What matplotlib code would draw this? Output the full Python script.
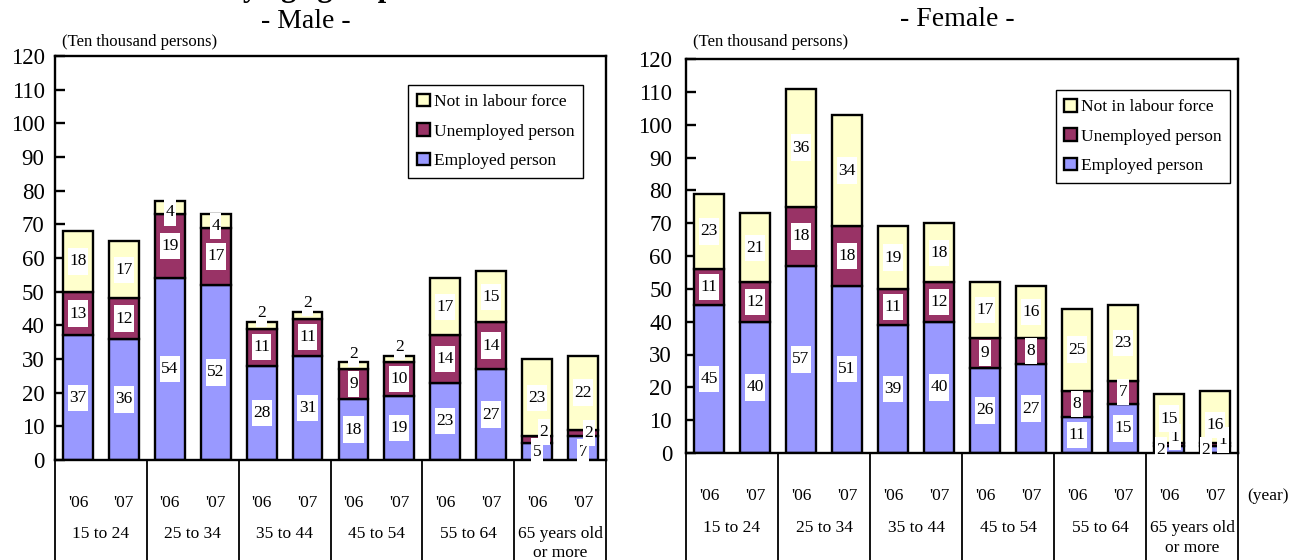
import matplotlib
matplotlib.use("Agg")
import matplotlib.pyplot as plt
import numpy as np
from matplotlib.path import Path
from matplotlib.patches import Patch

plt.rcParams['font.family'] = ['Liberation Serif', 'DejaVu Serif']

# ---- data (ten thousand persons) ----
age_groups = ["15 to 24", "25 to 34", "35 to 44", "45 to 54", "55 to 64",
              "65 years old\nor more"]
years = ["'06", "'07"]
series_names = ["Employed person", "Unemployed person", "Not in labour force"]
colors = ["#9999FF", "#993366", "#FFFFCC"]

male_employed = [37, 36, 54, 52, 28, 31, 18, 19, 23, 27, 5, 7]
male_unemployed = [13, 12, 19, 17, 11, 11, 9, 10, 14, 14, 2, 2]
male_not_in_lf = [18, 17, 4, 4, 2, 2, 2, 2, 17, 15, 23, 22]

female_employed = [45, 40, 57, 51, 39, 40, 26, 27, 11, 15, 2, 2]
female_unemployed = [11, 12, 18, 18, 11, 12, 9, 8, 8, 7, 1, 1]
female_not_in_lf = [23, 21, 36, 34, 19, 18, 17, 16, 25, 23, 15, 16]

# nudges (pixels) for labels of thin segments: (series, bar) -> (dx, dy)
male_shift = {(2, 2): (0, -5), (2, 3): (0, -5),
              (2, 4): (0, 12), (2, 5): (0, 12), (2, 6): (0, 12), (2, 7): (0, 12),
              (1, 10): (7, 8), (1, 11): (6, 0), (0, 11): (0, -4)}
female_shift = {(0, 10): (-8, 0), (1, 10): (6, 8), (0, 11): (-9, 0),
                (1, 11): (8, 5), (2, 11): (0, -8)}

W, H = 1292, 560
fig = plt.figure(figsize=(W / 100, H / 100), dpi=100)


def px_axes(l, r, t, b):
    return [l / W, 1 - b / H, (r - l) / W, (b - t) / H]


def tall_box(x0, y0, width, height, mutation_size):
    px = 0.08 * mutation_size
    py = 0.30 * mutation_size
    verts = [(x0 - px, y0 - py), (x0 + width + px, y0 - py),
             (x0 + width + px, y0 + height + py), (x0 - px, y0 + height + py),
             (x0 - px, y0 - py)]
    return Path(verts, closed=True)


def draw_panel(ax, employed, unemployed, not_in_lf, shifts, tick_pad,
               legend_anchor, year_off, group_off, line_step):
    n = len(employed)
    x = np.arange(n)
    bottom = np.zeros(n)
    for k, vals in enumerate([employed, unemployed, not_in_lf]):
        vals = np.asarray(vals, dtype=float)
        ax.bar(x, vals, width=0.65, bottom=bottom, color=colors[k],
               edgecolor='black', linewidth=1.7, zorder=2)
        for i in range(n):
            dx, dy = shifts.get((k, i), (0, 0))
            ax.annotate(f"{int(vals[i])}", xy=(x[i], bottom[i] + vals[i] / 2),
                        xytext=(dx, dy), textcoords='offset pixels',
                        ha='center', va='center', fontsize=12.5, zorder=6,
                        bbox=dict(boxstyle=tall_box, fc='white', ec='none'))
        bottom += vals

    ax.set_xlim(-0.5, n - 0.5)
    ax.set_ylim(0, 120)
    ax.set_yticks(np.arange(0, 121, 10))
    ax.set_xticks([])
    ax.tick_params(axis='y', direction='in', length=7, width=1.7,
                   labelsize=16.5, pad=tick_pad)
    for sp in ax.spines.values():
        sp.set_linewidth(1.7)

    # category table below the plot area
    for b in np.arange(-0.5, n, 2):
        ax.plot([b, b], [0, -0.5], color='black', lw=1.3, clip_on=False,
                transform=ax.get_xaxis_transform(), zorder=3)
    for i in range(n):
        ax.annotate(years[i % 2], xy=(x[i], 0),
                    xycoords=('data', 'axes fraction'),
                    xytext=(0, -year_off), textcoords='offset pixels',
                    ha='center', va='center', fontsize=12.5)
    for g, name in enumerate(age_groups):
        for j, line in enumerate(name.split("\n")):
            ax.annotate(line, xy=(2 * g + 0.5, 0),
                        xycoords=('data', 'axes fraction'),
                        xytext=(0, -group_off - j * line_step),
                        textcoords='offset pixels',
                        ha='center', va='center', fontsize=12.5)

    handles = [Patch(facecolor=colors[k], edgecolor='black', linewidth=1.7,
                     label=series_names[k]) for k in (2, 1, 0)]
    leg = ax.legend(handles=handles, loc='upper right',
                    bbox_to_anchor=legend_anchor, fontsize=12.5,
                    frameon=True, fancybox=False, framealpha=1,
                    edgecolor='black', handlelength=0.75, handleheight=0.75,
                    handletextpad=0.2, borderpad=0.5, labelspacing=0.75,
                    borderaxespad=0)
    leg.get_frame().set_linewidth(1.0)


ax_m = fig.add_axes(px_axes(55, 606, 56, 460))
ax_f = fig.add_axes(px_axes(686, 1238, 59, 453))

draw_panel(ax_m, male_employed, male_unemployed, male_not_in_lf, male_shift,
           tick_pad=7.5, legend_anchor=(0.958, 0.928),
           year_off=43, group_off=74, line_step=19)
draw_panel(ax_f, female_employed, female_unemployed, female_not_in_lf,
           female_shift, tick_pad=10, legend_anchor=(0.986, 0.921),
           year_off=43, group_off=75, line_step=20)

# panel titles and unit notes
fig.text(306 / W, 1 - 22 / H, "- Male -", ha='center', va='center', fontsize=20)
fig.text(957 / W, 1 - 20 / H, "- Female -", ha='center', va='center', fontsize=20)
fig.text(62 / W, 1 - 42 / H, "(Ten thousand persons)", ha='left', va='center',
         fontsize=12)
fig.text(693 / W, 1 - 42 / H, "(Ten thousand persons)", ha='left', va='center',
         fontsize=12)
fig.text(1247 / W, 1 - 496 / H, "(year)", ha='left', va='center', fontsize=12.5)

# main heading sits above the top edge
fig.text(395 / W, 1 + 4 / H, "Labour force status by age group", ha='right',
         va='baseline', fontsize=22, fontweight='bold')

fig.savefig("out.png", dpi=100)
